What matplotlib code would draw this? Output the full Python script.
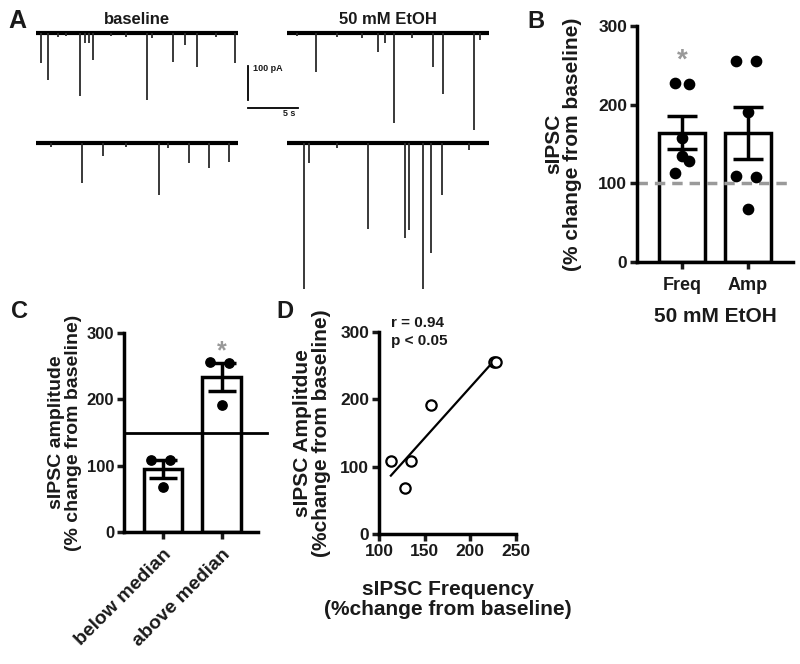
import numpy as np
import matplotlib
matplotlib.use("Agg")
import matplotlib.pyplot as plt

plt.rcParams['font.family'] = ['Liberation Sans', 'DejaVu Sans']
plt.rcParams['font.weight'] = 'bold'
plt.rcParams['axes.labelweight'] = 'bold'
plt.rcParams['text.color'] = '#1a1a1a'
plt.rcParams['axes.labelcolor'] = '#1a1a1a'

W, H = 800, 664

# ---- data ----
# panel A traces: event times (s) and amplitudes (pA)
base1_t = [0.5, 1.2, 2.2, 3.0, 4.4, 4.9, 5.3, 5.7, 7.5, 9.0, 11.1, 11.6, 13.7, 14.9, 16.1, 18.0, 19.9]
base1_a = [88, 138, 12, 10, 185, 30, 30, 79, 10, 12, 197, 15, 85, 35, 100, 12, 88]
etoh1_t = [1.0, 2.9, 5.0, 7.5, 9.1, 9.8, 10.7, 12.5, 14.6, 15.6, 18.7, 19.3]
etoh1_a = [10, 115, 12, 15, 56, 30, 265, 15, 100, 179, 285, 20]
base2_t = [1.5, 4.6, 6.7, 9.0, 12.3, 13.2, 15.3, 17.3, 19.3]
base2_a = [12, 119, 40, 12, 153, 15, 60, 75, 55]
etoh2_t = [1.7, 2.2, 5.0, 8.1, 11.8, 12.2, 13.6, 14.4, 15.5, 18.2]
etoh2_a = [430, 60, 15, 254, 281, 256, 430, 324, 153, 20]

# panels B-D: % change from baseline per cell
freq = [113, 128, 135, 157, 226, 228]
amp = [109, 68, 108, 191, 256, 255]
b_labels = ['Freq', 'Amp']
amp_below = [109, 68, 108]
amp_above = [191, 256, 255]
c_labels = ['below median', 'above median']
median_line = 150


def ax_px(left, top, right, bottom):
    return fig.add_axes([left / W, 1 - bottom / H, (right - left) / W, (bottom - top) / H])


def ftext(x, y, s, **kw):
    fig.text(x / W, 1 - y / H, s, **kw)


def style(ax, lw=2.5):
    for s in ['top', 'right']:
        ax.spines[s].set_visible(False)
    for s in ['left', 'bottom']:
        ax.spines[s].set_linewidth(lw)
    ax.tick_params(width=lw, length=5, colors='#1a1a1a', pad=2)


def sem(v):
    v = np.asarray(v, float)
    return v.std(ddof=1) / np.sqrt(len(v))


fig = plt.figure(figsize=(W / 100, H / 100), dpi=100)

# ---- A: traces ----
axA = ax_px(30, 20, 495, 300)
axA.set_xlim(-0.6, 45.9)
axA.set_ylim(-785, 38)
axA.axis('off')
dur = 20.2
x_off = 25.1
y_off = -323
for t, a, x0, y0 in [(base1_t, base1_a, 0, 0), (etoh1_t, etoh1_a, x_off, 0),
                     (base2_t, base2_a, 0, y_off), (etoh2_t, etoh2_a, x_off, y_off)]:
    axA.plot([x0, x0 + dur], [y0, y0], color='k', lw=3, solid_capstyle='butt')
    axA.vlines(x0 + np.array(t), y0, y0 - np.array(a), color='#2a2a2a', lw=1.3)
# scale bar
axA.plot([21.2, 21.2], [-97, -197], color='k', lw=1.3)
axA.plot([21.2, 26.2], [-220, -220], color='k', lw=1.3)
axA.text(21.7, -105, '100 pA', fontsize=6.5, va='center')
axA.text(24.7, -236, '5 s', fontsize=6.5, va='center')

ftext(17, 21, 'A', fontsize=18, ha='center', va='center')
ftext(137, 20, 'baseline', fontsize=12, ha='center', va='center')
ftext(388, 20, '50 mM EtOH', fontsize=12, ha='center', va='center')

# ---- B: bar chart ----
axB = ax_px(637, 26, 793, 262)
style(axB)
axB.set_xlim(-0.68, 1.68)
axB.set_ylim(0, 300)
axB.axhline(100, color='#9a9a9a', lw=2.5, ls=(0, (3, 2)), zorder=2.5)
b_data = [freq, amp]
# horizontal spread of the dots, largest value first
b_jit = [[-0.11, 0.11, 0.0, 0.0, 0.11, -0.11], [-0.18, 0.12, 0.0, -0.18, 0.12, 0.0]]
for i, vals in enumerate(b_data):
    m = np.mean(vals)
    axB.bar(i, m, width=0.70, color='white', edgecolor='k', lw=2.5, zorder=2)
    vs = sorted(vals, reverse=True)
    axB.scatter(i + np.array(b_jit[i]), vs, s=55, color='k', zorder=3)
    axB.errorbar(i, m, yerr=sem(vals), fmt='none', ecolor='k', elinewidth=2.5,
                 capsize=11, capthick=2.5, zorder=4)
axB.text(0, 256, '*', fontsize=20, color='#999999', ha='center', va='center')
axB.set_xticks([0, 1])
axB.set_xticklabels(b_labels, fontsize=13)
axB.set_yticks([0, 100, 200, 300])
axB.tick_params(axis='y', labelsize=12.5)
axB.tick_params(axis='x', pad=6)
axB.set_ylabel('sIPSC\n(% change from baseline)', fontsize=15, linespacing=1.0)
axB.yaxis.set_label_coords(-0.35, 0.5)
axB.set_xlabel('50 mM EtOH', fontsize=15, va='top')
axB.xaxis.set_label_coords(0.5, -0.19)
ftext(536, 21, 'B', fontsize=17, ha='center', va='center')

# ---- C: amplitude split by median frequency ----
axC = ax_px(124, 333, 258, 532)
style(axC)
axC.set_xlim(-0.667, 1.624)
axC.set_ylim(0, 300)
c_data = [amp_below, amp_above]
c_jit = [0.0, 0.12, -0.2]
for i, vals in enumerate(c_data):
    m = np.mean(vals)
    axC.bar(i, m, width=0.65, color='white', edgecolor='k', lw=2.5, zorder=2)
    vs = sorted(vals)
    axC.scatter(i + np.array(c_jit), vs, s=45, color='k', zorder=3)
    axC.errorbar(i, m, yerr=sem(vals), fmt='none', ecolor='k', elinewidth=2.5,
                 capsize=10, capthick=2.5, zorder=4)
axC.plot([-0.667, 1.78], [median_line, median_line], color='k', lw=2, clip_on=False, zorder=5)
axC.text(1, 272, '*', fontsize=18, color='#999999', ha='center', va='center')
axC.set_xticks([0, 1])
axC.set_xticklabels(c_labels, fontsize=14, rotation=45, ha='right', rotation_mode='anchor')
axC.set_yticks([0, 100, 200, 300])
axC.tick_params(axis='y', labelsize=12)
axC.tick_params(axis='x', pad=5)
axC.set_ylabel('sIPSC amplitude\n(% change from baseline)', fontsize=14, linespacing=1.0)
axC.yaxis.set_label_coords(-0.31, 0.5)
ftext(20, 311, 'C', fontsize=17, ha='center', va='center')

# ---- D: correlation ----
axD = ax_px(379, 332, 516, 534)
style(axD)
axD.set_xlim(100, 250)
axD.set_ylim(0, 300)
axD.scatter(freq, amp, s=55, facecolors='white', edgecolors='k', linewidths=1.6, zorder=3, clip_on=False)
k, b = np.polyfit(freq, amp, 1)
xs = np.array([min(freq), max(freq)])
axD.plot(xs, k * xs + b, color='k', lw=1.6, zorder=2)
r = np.corrcoef(freq, amp)[0, 1]
axD.text(113, 300, 'r = %.2f\np < 0.05' % r, fontsize=11, va='center', linespacing=1.3)
axD.set_xticks([100, 150, 200, 250])
axD.set_yticks([0, 100, 200, 300])
axD.tick_params(labelsize=12.5)
axD.set_xlabel('sIPSC Frequency\n(%change from baseline)', fontsize=15, va='top', linespacing=1.05)
axD.xaxis.set_label_coords(0.5, -0.23)
axD.set_ylabel('sIPSC Amplitdue\n(%change from baseline)', fontsize=15, linespacing=1.0)
axD.yaxis.set_label_coords(-0.35, 0.5)
ftext(285, 311, 'D', fontsize=17, ha='center', va='center')

fig.savefig('out.png', dpi=100)
